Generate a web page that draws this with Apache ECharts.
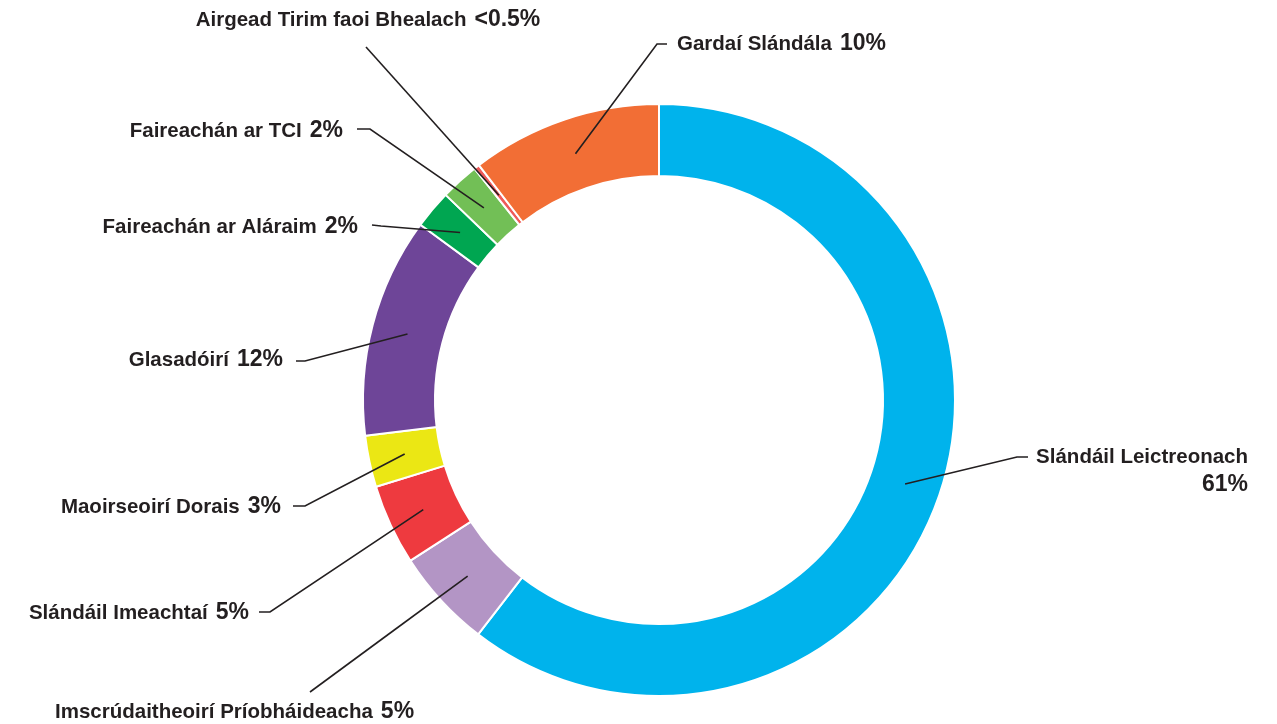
<!DOCTYPE html>
<html><head><meta charset="utf-8">
<script src="https://cdn.jsdelivr.net/npm/echarts@6/dist/echarts.min.js"></script>
<style>html,body{margin:0;padding:0;background:#fff}#c{width:1277px;height:724px}</style>
</head><body><div id="c"></div>
<script>
// ---- data ----
const categories = [
  'Slándáil Leictreonach',
  'Imscrúdaitheoirí Príobháideacha',
  'Slándáil Imeachtaí',
  'Maoirseoirí Dorais',
  'Glasadóirí',
  'Faireachán ar Aláraim',
  'Faireachán ar TCI',
  'Airgead Tirim faoi Bhealach',
  'Gardaí Slándála'
];
const values = [60.4, 5.4, 4.4, 2.8, 12.0, 2.1, 2.1, 0.3, 10.4];
const pctLabels = ['61%', '5%', '5%', '3%', '12%', '2%', '2%', '<0.5%', '10%'];

// ---- styles / layout ----
const colors = ['#00b3ec', '#b395c5', '#ee3a3f', '#ebe714', '#6e4598', '#00a651', '#72bf56', '#ef5a5a', '#f26e35'];
const CX = 659, CY = 400, R0 = 224, R1 = 296, RLINE = 260;
const labelSpots = [
  {x:1248, y:471, align:'right',  end:[1028,457], elbow:[1017,457]},
  {x:55,   y:712, align:'left',   end:[310,692],  elbow:null},
  {x:249,  y:613, align:'right',  end:[259,612],  elbow:[270,612]},
  {x:281,  y:507, align:'right',  end:[293,506],  elbow:[305,506]},
  {x:283,  y:360, align:'right',  end:[296,361],  elbow:[305,361]},
  {x:358,  y:227, align:'right',  end:[372,225],  elbow:[381,226]},
  {x:343,  y:131, align:'right',  end:[357,129],  elbow:[370,129]},
  {x:368,  y:20,  align:'center', end:[366,47],   elbow:null},
  {x:677,  y:44,  align:'left',   end:[667,44],   elbow:[657,44]}
];

const chart = echarts.init(document.getElementById('c'), null, {renderer:'canvas'});
const textColor = '#231f20';
const FONT = '"Liberation Sans", Arial, sans-serif';
const pieData = categories.map((c, i) => ({name: c, value: values[i]}));
chart.setOption({
  animation: false,
  backgroundColor: '#ffffff',
  color: colors,
  series: [{
    type: 'pie',
    z: 2,
    center: [CX, CY],
    radius: [R0, R1],
    startAngle: 90,
    clockwise: true,
    silent: true,
    emphasis: {disabled: true},
    itemStyle: {borderColor: '#ffffff', borderWidth: 2},
    data: pieData,
    label: {show: false},
    labelLine: {show: false}
  }, {
    type: 'pie',
    z: 5,
    center: [CX, CY],
    radius: [R0, R1],
    startAngle: 90,
    clockwise: true,
    silent: true,
    avoidLabelOverlap: false,
    minShowLabelAngle: 0,
    emphasis: {disabled: true},
    itemStyle: {color: 'rgba(0,0,0,0)', borderWidth: 0},
    data: pieData,
    label: {
      show: true,
      position: 'outside',
      color: textColor,
      fontFamily: FONT,
      fontWeight: 'bold',
      formatter: (p) => {
        const i = p.dataIndex;
        if (i === 0) return '{n|' + p.name + '}\n{p|' + pctLabels[i] + '}';
        return '{n|' + p.name + '}{p|' + pctLabels[i] + '}';
      },
      rich: {
        n: {fontSize: 20.5, fontWeight: 'bold', color: textColor, lineHeight: 28, fontFamily: FONT},
        p: {fontSize: 23, fontWeight: 'bold', color: textColor, lineHeight: 28, padding: [0, 0, 0, 8], fontFamily: FONT}
      }
    },
    labelLine: {
      show: true,
      length: 20,
      length2: 10,
      smooth: false,
      lineStyle: {color: textColor, width: 1.6}
    },
    labelLayout: (params) => {
      const s = labelSpots[params.dataIndex];
      const p0 = params.labelLinePoints ? params.labelLinePoints[0] : [CX, CY];
      const k = RLINE / R1;
      const start = [CX + (p0[0] - CX) * k, CY + (p0[1] - CY) * k];
      const elbow = s.elbow || [(start[0] + s.end[0]) / 2, (start[1] + s.end[1]) / 2];
      return {
        x: s.x, y: s.y, align: s.align, verticalAlign: 'middle',
        labelLinePoints: [start, elbow, s.end]
      };
    }
  }]
});
</script>
</body></html>
